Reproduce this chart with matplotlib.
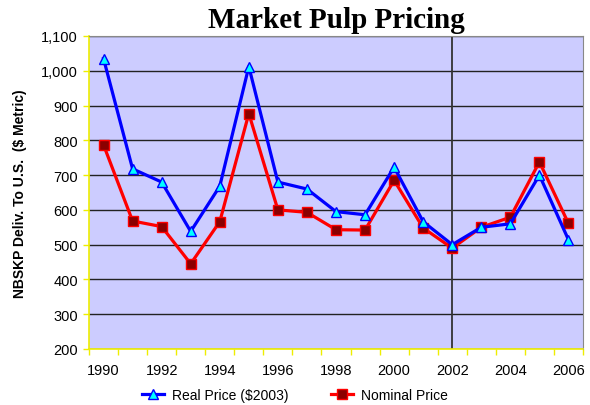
import numpy as np
import matplotlib.pyplot as plt

# data
lata = [1990, 1991, 1992, 1993, 1994, 1995, 1996, 1997, 1998,
        1999, 2000, 2001, 2002, 2003, 2004, 2005, 2006]
cena_realna = [1035, 718, 680, 538, 668, 1012, 680, 660, 595,
               586, 723, 566, 500, 550, 560, 700, 514]
cena_nominalna = [787, 568, 552, 445, 566, 877, 600, 593, 543,
                  542, 685, 548, 490, 550, 579, 738, 561]
etykiety_lat = ['1990', '', '1992', '', '1994', '', '1996', '', '1998',
                '', '2000', '', '2002', '', '2004', '', '2006']

plt.rcParams['font.family'] = 'Liberation Sans'

fig = plt.figure(figsize=(5.9, 4.06), dpi=100)
ax = fig.add_axes([89 / 590, 1 - 350 / 406, 494 / 590, 313 / 406])
ax.set_facecolor('#CCCCFF')

x = np.arange(len(lata))
ax.plot(x, cena_realna, color='#0000FF', lw=2.3, marker='^', ms=7.5,
        mfc='#00FFFF', mec='#0000FF', mew=1, label='Real Price ($2003)', zorder=4)
ax.plot(x, cena_nominalna, color='#FF0000', lw=2.3, marker='s', ms=6.5,
        mfc='#8B0000', mec='#FF0000', mew=1, label='Nominal Price', zorder=3)

ax.axvline(lata.index(2002), color='#333333', lw=1.3, zorder=2)

ax.set_xlim(-0.5, len(lata) - 0.5)
ax.set_ylim(200, 1100)
ax.set_yticks(range(200, 1101, 100))
ax.set_yticklabels(['{:,}'.format(v) for v in range(200, 1101, 100)], fontsize=10.5)
ax.yaxis.grid(True, color='#222222', lw=1)
ax.set_axisbelow(True)

ax.set_xticks(x)
ax.set_xticklabels(etykiety_lat, fontsize=10.5)
ax.set_xticks(np.arange(-0.5, len(lata)), minor=True)
ax.tick_params(axis='x', which='major', length=0, pad=10)
ax.tick_params(axis='x', which='minor', length=4, color='#EEEE00', width=1)
ax.tick_params(axis='y', length=4, color='#EEEE00', width=1, pad=4)

ax.spines['left'].set_color('#EEEE00')
ax.spines['bottom'].set_color('#EEEE00')
ax.spines['left'].set_linewidth(1.2)
ax.spines['bottom'].set_linewidth(1.2)
ax.spines['right'].set_color('#888888')
ax.spines['top'].set_color('#888888')

ax.set_ylabel('NBSKP Deliv. To U.S.  ($ Metric)', fontsize=10, fontweight='bold', labelpad=10)

fig.text(0.5 * (89 + 583) / 590, 1 - 20 / 406, 'Market Pulp Pricing', ha='center', va='center',
         fontsize=21, fontweight='bold', family='Liberation Serif')

fig.legend(loc='center', bbox_to_anchor=(295 / 590, 1 - 396 / 406), ncol=2, frameon=False,
           fontsize=10, handlelength=1.6, handletextpad=0.6, columnspacing=3.0)

fig.savefig('out.png', dpi=100)
